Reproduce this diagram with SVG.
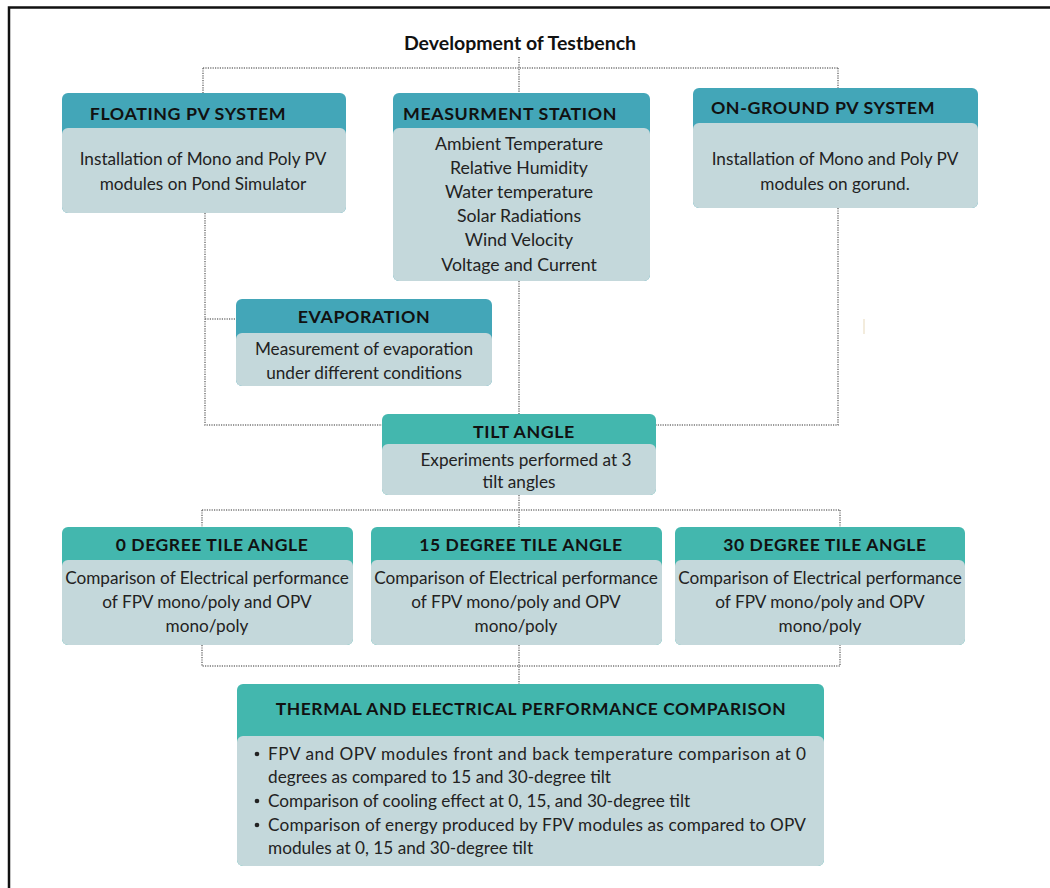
<svg xmlns="http://www.w3.org/2000/svg" width="1050" height="888" viewBox="0 0 1050 888">
<defs>
<style>
.hb{fill:#43A6B8}
.hg{fill:#43B7AE}
.bd{fill:#C4D8DB}
.ht{font-family:Lato,"Noto Sans",sans-serif;font-weight:bold;font-size:17.8px;fill:#111;text-anchor:middle;letter-spacing:0.6px}
.bt{font-family:Lato,"Noto Sans",sans-serif;font-size:17.2px;fill:#222;text-anchor:middle}
.bm{font-family:Lato,"Noto Sans",sans-serif;font-size:17.7px;fill:#222;text-anchor:middle}
.bl{font-family:Lato,"Noto Sans",sans-serif;font-size:17.2px;fill:#222}
.cn{fill:none;stroke:#777;stroke-width:1.5;stroke-dasharray:1.2 1.2}
</style>
</defs>
<rect width="1050" height="888" fill="#fff"/>
<path d="M9,888 V7.5 H1050" fill="none" stroke="#111" stroke-width="2.5"/>
<rect x="863" y="319" width="2" height="15" fill="#F3ECDD"/>

<g id="connectors" class="cn">
<path d="M519,57 V93"/>
<path d="M203,68 H838"/>
<path d="M203,68 V93"/>
<path d="M838,68 V88"/>
<path d="M205,213 V425 H382"/>
<path d="M205,319 H236"/>
<path d="M519,281 V414"/>
<path d="M838,208 V425 H656"/>
<path d="M519,495 V527"/>
<path d="M202,510 H840"/>
<path d="M202,510 V527"/>
<path d="M840,510 V527"/>
<path d="M202,645 V666 H840 V645"/>
<path d="M519,645 V684"/>
</g>

<text x="520" y="50" font-family="Lato,'Noto Sans',sans-serif" font-weight="bold" font-size="19.5" text-anchor="middle" fill="#111">Development of Testbench</text>

<g id="floating">
<rect class="hb" x="62" y="93" width="284" height="120" rx="6"/>
<rect class="bd" x="62" y="128" width="284" height="85" rx="6"/>
<text class="ht" x="188" y="120">FLOATING PV SYSTEM</text>
<text class="bt" x="203" y="165">Installation of Mono and Poly PV</text>
<text class="bt" x="203" y="190">modules on Pond Simulator</text>
</g>

<g id="measurement">
<rect class="hb" x="393" y="93" width="257" height="188" rx="6"/>
<rect class="bd" x="393" y="128" width="257" height="153" rx="6"/>
<text class="ht" x="510" y="120">MEASURMENT STATION</text>
<text class="bm" x="519" y="150">Ambient Temperature</text>
<text class="bm" x="519" y="174">Relative Humidity</text>
<text class="bm" x="519" y="198">Water temperature</text>
<text class="bm" x="519" y="222">Solar Radiations</text>
<text class="bm" x="519" y="246">Wind Velocity</text>
<text class="bm" x="519" y="271">Voltage and Current</text>
</g>

<g id="onground">
<rect class="hb" x="693" y="88" width="285" height="120" rx="6"/>
<rect class="bd" x="693" y="123" width="285" height="85" rx="6"/>
<text class="ht" x="823" y="114">ON-GROUND PV SYSTEM</text>
<text class="bt" x="835" y="165">Installation of Mono and Poly PV</text>
<text class="bt" x="835" y="190">modules on gorund.</text>
</g>

<g id="evaporation">
<rect class="hb" x="236" y="299" width="256" height="87" rx="6"/>
<rect class="bd" x="236" y="333" width="256" height="53" rx="6"/>
<text class="ht" x="364" y="323">EVAPORATION</text>
<text class="bt" x="364" y="355">Measurement of evaporation</text>
<text class="bt" x="364" y="379">under different conditions</text>
</g>

<g id="tilt">
<rect class="hg" x="382" y="414" width="274" height="81" rx="6"/>
<rect class="bd" x="382" y="444" width="274" height="51" rx="6"/>
<text class="ht" x="524" y="438">TILT ANGLE</text>
<text class="bt" x="526" y="466">Experiments performed at 3</text>
<text class="bt" x="519" y="488">tilt angles</text>
</g>

<g id="deg0">
<rect class="hg" x="62" y="527" width="291" height="118" rx="6"/>
<rect class="bd" x="62" y="560" width="291" height="85" rx="6"/>
<text class="ht" x="212" y="551" style="font-size:17.5px">0 DEGREE TILE ANGLE</text>
<text class="bt" x="207" y="584">Comparison of Electrical performance</text>
<text class="bt" x="207" y="608">of FPV mono/poly and OPV</text>
<text class="bt" x="207" y="632">mono/poly</text>
</g>

<g id="deg15">
<rect class="hg" x="371" y="527" width="291" height="118" rx="6"/>
<rect class="bd" x="371" y="560" width="291" height="85" rx="6"/>
<text class="ht" x="521" y="551" style="font-size:17.5px">15 DEGREE TILE ANGLE</text>
<text class="bt" x="516" y="584">Comparison of Electrical performance</text>
<text class="bt" x="516" y="608">of FPV mono/poly and OPV</text>
<text class="bt" x="516" y="632">mono/poly</text>
</g>

<g id="deg30">
<rect class="hg" x="675" y="527" width="290" height="118" rx="6"/>
<rect class="bd" x="675" y="560" width="290" height="85" rx="6"/>
<text class="ht" x="825" y="551" style="font-size:17.5px">30 DEGREE TILE ANGLE</text>
<text class="bt" x="820" y="584">Comparison of Electrical performance</text>
<text class="bt" x="820" y="608">of FPV mono/poly and OPV</text>
<text class="bt" x="820" y="632">mono/poly</text>
</g>

<g id="thermal">
<rect class="hg" x="237" y="684" width="587" height="182" rx="6"/>
<rect class="bd" x="237" y="736" width="587" height="130" rx="6"/>
<text class="ht" x="531" y="715" style="font-size:17.4px">THERMAL AND ELECTRICAL PERFORMANCE COMPARISON</text>
<circle cx="257" cy="754" r="2.3" fill="#222"/>
<circle cx="257" cy="801" r="2.3" fill="#222"/>
<circle cx="257" cy="825" r="2.3" fill="#222"/>
<text class="bl" x="268" y="760" textLength="538" lengthAdjust="spacing">FPV and OPV modules front and back temperature comparison at 0</text>
<text class="bl" x="268" y="783">degrees as compared to 15 and 30-degree tilt</text>
<text class="bl" x="268" y="807">Comparison of cooling effect at 0, 15, and 30-degree tilt</text>
<text class="bl" x="268" y="831" textLength="538" lengthAdjust="spacing">Comparison of energy produced by FPV modules as compared to OPV</text>
<text class="bl" x="268" y="854">modules at 0, 15 and 30-degree tilt</text>
</g>
</svg>
